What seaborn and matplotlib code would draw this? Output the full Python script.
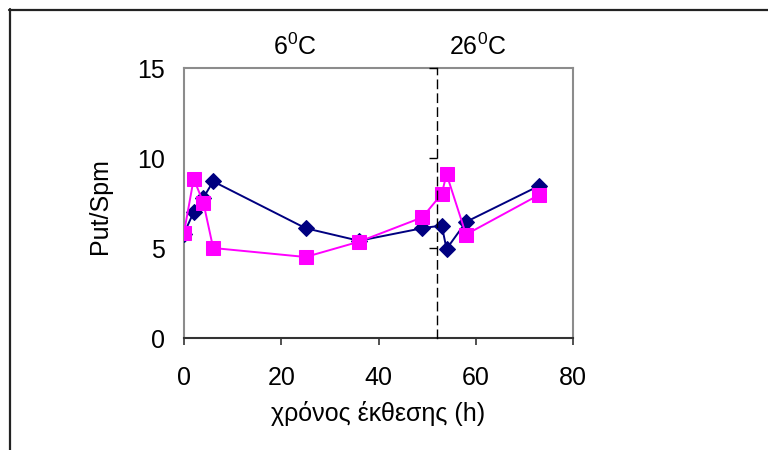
import matplotlib
matplotlib.use("Agg")
import matplotlib.pyplot as plt
import seaborn as sns
import pandas as pd
from matplotlib.lines import Line2D

# ---- data ----
hours = [0, 2, 4, 6, 25, 36, 49, 53, 54, 58, 73]
series_blue = [5.8, 7.0, 7.8, 8.7, 6.1, 5.4, 6.1, 6.25, 4.95, 6.45, 8.45]
series_pink = [5.85, 8.85, 7.5, 5.0, 4.5, 5.35, 6.7, 8.0, 9.1, 5.75, 7.95]
x_ticks = [0, 20, 40, 60, 80]
y_ticks = [0, 5, 10, 15]
switch_hour = 52
temp_labels = [r"6$^{\mathrm{0}}$C", r"26$^{\mathrm{0}}$C"]
x_label = "χρόνος έκθεσης (h)"
y_label = "Put/Spm"

sns.set_theme(style="white")
plt.rcParams["font.family"] = ["Liberation Sans", "DejaVu Sans"]
plt.rcParams["mathtext.fontset"] = "custom"
plt.rcParams["mathtext.rm"] = "Liberation Sans"
plt.rcParams["mathtext.it"] = "Liberation Sans:italic"
plt.rcParams["mathtext.bf"] = "Liberation Sans:bold"
plt.rcParams["text.color"] = "black"
plt.rcParams["axes.labelcolor"] = "black"
plt.rcParams["xtick.color"] = "black"
plt.rcParams["ytick.color"] = "black"

FS = 18
fig = plt.figure(figsize=(7.68, 4.5), dpi=100)
ax = fig.add_axes([184 / 768, 1 - 338 / 450, (573 - 184) / 768, (338 - 68) / 450])

df = pd.DataFrame({"h": hours, "blue": series_blue, "pink": series_pink})
sns.lineplot(data=df, x="h", y="blue", ax=ax, sort=False, color="#000080",
             marker="D", markersize=8.5, markeredgecolor="#000080", linewidth=1.4, zorder=3)
sns.lineplot(data=df, x="h", y="pink", ax=ax, sort=False, color="#FF00FF",
             marker="s", markersize=10, markeredgecolor="#FF00FF", linewidth=1.4, zorder=4)

ax.set_xlim(0, 80)
ax.set_ylim(0, 15)
ax.set_xticks(x_ticks)
ax.set_yticks(y_ticks)
ax.set_xticklabels([str(t) for t in x_ticks], fontsize=FS)
ax.set_yticklabels([str(t) for t in y_ticks], fontsize=FS)
ax.tick_params(axis="x", direction="out", length=5, width=1.2, color="#333333",
               labelcolor="black", pad=15, bottom=True)
ax.tick_params(axis="y", length=0, pad=14, labelcolor="black")

for side in ["left", "top", "right"]:
    ax.spines[side].set_color("#8c8c8c")
    ax.spines[side].set_linewidth(1.5)
ax.spines["bottom"].set_color("#333333")
ax.spines["bottom"].set_linewidth(1.5)

ax.set_xlabel(x_label, fontsize=FS, color="black")
ax.set_ylabel(y_label, fontsize=FS, color="black")
ax.xaxis.set_label_coords(0.5, -0.235)
ax.yaxis.set_label_coords(-0.185, 0.49)

# dashed secondary axis at the temperature switch
ax2 = ax.twinx()
ax2.set_ylim(0, 15)
for side in ["top", "bottom", "right"]:
    ax2.spines[side].set_visible(False)
ax2.spines["left"].set_position(("data", switch_hour))
ax2.spines["left"].set_linestyle((0, (6, 4)))
ax2.spines["left"].set_linewidth(1.0)
ax2.spines["left"].set_color("black")
ax2.yaxis.set_ticks_position("left")
ax2.set_yticks([5, 10, 15])
ax2.set_yticklabels([])
ax2.tick_params(axis="y", direction="out", length=6, width=1.0, color="black")
ax2.set_ylabel("")

# temperature labels above the plot
fig.text(295 / 768, 1 - 47 / 450, temp_labels[0], fontsize=FS, ha="center", va="center", color="black")
fig.text(478 / 768, 1 - 47 / 450, temp_labels[1], fontsize=FS, ha="center", va="center", color="black")

# outer frame (left and top)
fig.add_artist(Line2D([9.5 / 768, 9.5 / 768], [1 - 9 / 450, 0], transform=fig.transFigure,
                      color="#222222", linewidth=1.6))
fig.add_artist(Line2D([9 / 768, 1], [1 - 9.5 / 450, 1 - 9.5 / 450], transform=fig.transFigure,
                      color="#222222", linewidth=1.6))

fig.savefig("out.png", dpi=100)
